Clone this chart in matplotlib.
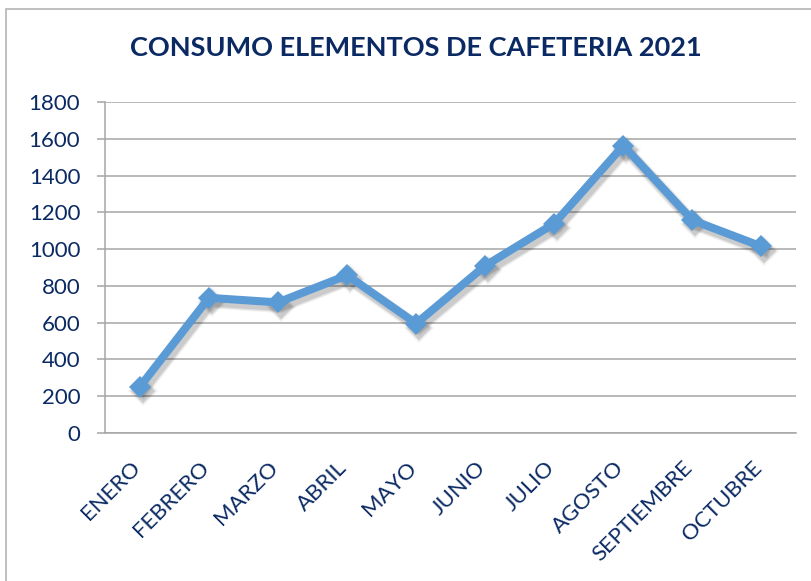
import matplotlib.pyplot as plt
import matplotlib.transforms as mtransforms
from matplotlib.patches import Rectangle
import numpy as np

# datos
meses = ['ENERO', 'FEBRERO', 'MARZO', 'ABRIL', 'MAYO', 'JUNIO',
         'JULIO', 'AGOSTO', 'SEPTIEMBRE', 'OCTUBRE']
consumo = [250, 735, 710, 858, 595, 910, 1140, 1565, 1158, 1015]
y_ticks = [0, 200, 400, 600, 800, 1000, 1200, 1400, 1600, 1800]

navy = '#0b2a63'
azul = '#5b9bd5'
gris = '#a6a6a6'

plt.rcParams['font.family'] = ['Lato', 'DejaVu Sans']

fig = plt.figure(figsize=(8.12, 5.81), dpi=100)
ax = fig.add_axes([105.3 / 812, 1 - 432.7 / 581, (796 - 105.3) / 812, (432.7 - 102.4) / 581])

# marco exterior del grafico
fig.patches.append(Rectangle((6 / 812, -0.1), 1.2, 1 - 9 / 581 + 0.1, transform=fig.transFigure,
                             fill=False, edgecolor='#b4b4b4', linewidth=1.2))

x = np.arange(len(meses))

# sombra difusa: varias capas desplazadas con poca opacidad
for w, a in [(9.5, 0.05), (8.0, 0.07), (6.5, 0.09)]:
    off = mtransforms.ScaledTranslation(2 / 72, -3 / 72, fig.dpi_scale_trans)
    ax.plot(x, consumo, color='black', alpha=a, linewidth=w, marker='D',
            markersize=11.5 + (w - 5.8), markeredgewidth=0, solid_joinstyle='miter',
            transform=ax.transData + off, zorder=2)

ax.plot(x, consumo, color=azul, linewidth=5.8, marker='D', markersize=11.5,
        markeredgewidth=0, solid_joinstyle='miter', zorder=3)

ax.set_xlim(-0.5, len(meses) - 0.5)
ax.set_ylim(0, 1800)
ax.set_yticks(y_ticks)
ax.set_xticks(x)
ax.set_xticklabels(meses, rotation=45, ha='right', va='top')
ax.yaxis.grid(True, color=gris, linewidth=1.1)
ax.set_axisbelow(True)

for s in ['top', 'right']:
    ax.spines[s].set_visible(False)
for s in ['left', 'bottom']:
    ax.spines[s].set_color(gris)
    ax.spines[s].set_linewidth(1.1)

ax.tick_params(axis='y', length=6, width=1.1, color=gris, pad=12, labelsize=16, labelcolor=navy)
ax.tick_params(axis='x', length=0, pad=18, labelsize=16, labelcolor=navy)
for lab in ax.get_xticklabels():
    lab.set_transform(lab.get_transform() + mtransforms.ScaledTranslation(3 / 72, 0, fig.dpi_scale_trans))

fig.text(416 / 812, 1 - 48 / 581, 'CONSUMO ELEMENTOS DE CAFETERIA 2021', ha='center', va='center',
         fontsize=19.5, fontweight='bold', color=navy)

fig.savefig('out.png', dpi=100)
